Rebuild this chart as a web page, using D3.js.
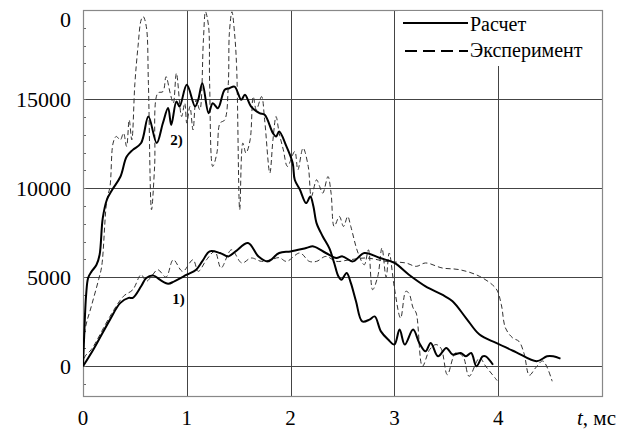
<!DOCTYPE html>
<html>
<head>
<meta charset="utf-8">
<script src="https://cdn.jsdelivr.net/npm/d3@7"></script>
<style>
  body { margin: 0; background: #fff; }
</style>
</head>
<body>
<div id="chart"></div>
<script>
// tick labels
const xTicks = [0, 1, 2, 3, 4];
const yTicks = [0, 5000, 10000, 15000];
const yTickLabels = ["0", "5000", "10000", "15000"];
const topLabel = "0"; // clipped "20000" label at the top

// 2) calculation
const calc2T = [0, 0.01, 0.03, 0.05, 0.08, 0.13, 0.16, 0.19, 0.23, 0.28, 0.36, 0.42, 0.48, 0.56, 0.63, 0.71, 0.77, 0.82, 0.85, 0.90, 0.93, 1.0, 1.08, 1.11, 1.15, 1.21, 1.25, 1.30, 1.365, 1.41, 1.46, 1.525, 1.56, 1.62, 1.70, 1.75, 1.83, 1.86, 1.89, 1.96, 2.02, 2.04, 2.09, 2.15, 2.19, 2.22, 2.25, 2.31, 2.375, 2.42, 2.46, 2.49, 2.54, 2.58, 2.63, 2.69, 2.76, 2.81, 2.87, 2.94, 3.0, 3.05, 3.10, 3.18, 3.24, 3.30, 3.35, 3.42, 3.50, 3.56, 3.64, 3.69, 3.74, 3.79, 3.85, 3.88, 3.95];
const calc2V = [0, 1500, 4000, 4970, 5300, 5700, 6260, 8300, 9350, 9900, 10640, 11760, 12150, 12530, 14020, 12530, 13660, 14500, 13550, 14860, 14580, 15800, 14580, 14960, 15890, 14210, 14770, 14490, 15520, 15610, 15700, 14960, 15240, 14580, 14210, 14120, 13090, 12900, 13180, 12340, 11410, 10470, 9910, 9160, 9530, 8970, 8040, 7290, 6600, 5800, 5050, 4860, 5240, 4680, 3650, 2520, 2620, 2800, 1960, 1500, 1220, 2060, 1220, 2060, 1310, 840, 1310, 560, 1030, 660, 750, 560, 750, 0, 560, 560, 90];

// 2) experiment
const exp2T = [0, 0.02, 0.08, 0.15, 0.18, 0.23, 0.26, 0.29, 0.32, 0.36, 0.39, 0.42, 0.445, 0.47, 0.50, 0.53, 0.56, 0.58, 0.61, 0.63, 0.66, 0.69, 0.72, 0.77, 0.80, 0.84, 0.87, 0.90, 0.95, 0.98, 1.0, 1.03, 1.06, 1.09, 1.125, 1.16, 1.18, 1.21, 1.22, 1.25, 1.29, 1.32, 1.365, 1.40, 1.41, 1.435, 1.46, 1.48, 1.51, 1.54, 1.57, 1.61, 1.64, 1.67, 1.72, 1.75, 1.80, 1.83, 1.86, 1.89, 1.93, 1.97, 2.04, 2.07, 2.12, 2.17, 2.20, 2.25, 2.28, 2.31, 2.36, 2.39, 2.42, 2.47, 2.51, 2.55, 2.58, 2.65, 2.71, 2.75, 2.79, 2.84, 2.88, 2.92, 2.95, 3.0, 3.06, 3.11, 3.14, 3.18, 3.21, 3.27, 3.34, 3.40, 3.45, 3.51, 3.59, 3.66, 3.72, 3.82, 3.88, 3.99];
const exp2V = [0, 2060, 3360, 4860, 5610, 9350, 10090, 12530, 12900, 12710, 13090, 12340, 13830, 12710, 15890, 17950, 19440, 19630, 19070, 15890, 8790, 11220, 15330, 15420, 16260, 15330, 14770, 16450, 14020, 14770, 13650, 14580, 13270, 14960, 14400, 18320, 19900, 19070, 15890, 11220, 11970, 13650, 13830, 15890, 18700, 19900, 18700, 16820, 8790, 12530, 11970, 12710, 15140, 14400, 15140, 13830, 10850, 12710, 14020, 13090, 12150, 11220, 12060, 11030, 12250, 11220, 9530, 10470, 10090, 9720, 10650, 9720, 7850, 8410, 7850, 8410, 7850, 6360, 5700, 6540, 4300, 5050, 6640, 5000, 6360, 4400, 2710, 4210, 4100, 3280, 2990, 0, 940, 1220, 1000, -470, 750, 560, -560, 470, 0, -800];

// 1) calculation
const calc1T = [0, 0.1, 0.26, 0.36, 0.44, 0.48, 0.56, 0.61, 0.68, 0.74, 0.82, 0.88, 1.0, 1.09, 1.15, 1.22, 1.32, 1.40, 1.47, 1.59, 1.69, 1.78, 1.89, 2.0, 2.15, 2.22, 2.34, 2.44, 2.50, 2.6, 2.71, 2.86, 3.0, 3.14, 3.30, 3.46, 3.56, 3.69, 3.82, 3.98, 4.17, 4.37, 4.47, 4.53, 4.6];
const calc1V = [0, 940, 2620, 3560, 3840, 3840, 4490, 4960, 5090, 4860, 4640, 4770, 5140, 5420, 5900, 6450, 6360, 6170, 6450, 6920, 6170, 5890, 6360, 6450, 6640, 6730, 6360, 6080, 6170, 5890, 6360, 6080, 5800, 5140, 4490, 4020, 3650, 2710, 1780, 1310, 800, 280, 560, 560, 430];

// 1) experiment
const exp1T = [0, 0.02, 0.08, 0.26, 0.39, 0.48, 0.56, 0.61, 0.66, 0.72, 0.80, 0.87, 0.96, 1.06, 1.11, 1.19, 1.27, 1.33, 1.43, 1.53, 1.62, 1.72, 1.81, 1.89, 1.96, 2.09, 2.18, 2.25, 2.34, 2.44, 2.57, 2.73, 2.92, 3.11, 3.21, 3.30, 3.46, 3.63, 3.82, 3.98, 4.03, 4.07, 4.14, 4.20, 4.25, 4.30, 4.36, 4.43, 4.52];
const exp1V = [0, 560, 940, 2800, 3930, 4300, 5140, 4770, 5050, 5420, 5010, 5980, 5330, 5980, 5330, 5980, 6450, 5520, 6540, 5800, 6080, 5890, 5980, 6100, 5890, 6360, 5890, 5890, 6170, 5890, 5980, 6080, 5890, 5800, 5610, 5800, 5520, 5420, 5050, 4350, 3460, 2150, 1590, 1400, 700, -500, -90, 300, -840];

const legendNames = ["Расчет", "Эксперимент"];

const width = 623,
  height = 431;
const plot = { left: 83, right: 602, top: 10, bottom: 396 };

// pick the first serif face that is really installed (width test against a fallback)
function pickFont(list) {
  const ctx = document.createElement("canvas").getContext("2d");
  const probe = "Эксперимент 15000 mmwwlli";
  const widthOf = (f) => {
    ctx.font = `40px ${f}`;
    return ctx.measureText(probe).width;
  };
  const mono = widthOf("monospace");
  for (const name of list) {
    if (widthOf(`"${name}", monospace`) !== mono) return `"${name}"`;
  }
  return "serif";
}
const serif = pickFont(["Liberation Serif", "Times New Roman", "Tinos", "DejaVu Serif", "Noto Serif", "FreeSerif"]);

const svg = d3
  .select("#chart")
  .append("svg")
  .attr("width", width)
  .attr("height", height)
  .style("font-family", serif);

const x = d3.scaleLinear().domain([0, 5]).range([plot.left, plot.right]);
const y = d3.scaleLinear().domain([-1667, 20000]).range([plot.bottom, plot.top]);

// grid
svg
  .append("g")
  .selectAll("line")
  .data(yTicks)
  .join("line")
  .attr("x1", plot.left)
  .attr("x2", plot.right)
  .attr("y1", (d) => Math.round(y(d)) + 0.5)
  .attr("y2", (d) => Math.round(y(d)) + 0.5)
  .style("stroke", "#444")
  .style("stroke-width", 1);

svg
  .append("g")
  .selectAll("line")
  .data(xTicks.slice(1))
  .join("line")
  .attr("x1", (d) => Math.round(x(d)) + 0.5)
  .attr("x2", (d) => Math.round(x(d)) + 0.5)
  .attr("y1", plot.top)
  .attr("y2", plot.bottom)
  .style("stroke", "#444")
  .style("stroke-width", 1);

// minor ticks on the y axis, every 1000
svg
  .append("g")
  .selectAll("line")
  .data(d3.range(-1000, 20000, 1000))
  .join("line")
  .attr("x1", plot.left)
  .attr("x2", plot.left + 3)
  .attr("y1", (d) => Math.round(y(d)) + 0.5)
  .attr("y2", (d) => Math.round(y(d)) + 0.5)
  .style("stroke", "#666");

// frame
svg
  .append("rect")
  .attr("x", plot.left + 0.5)
  .attr("y", plot.top + 0.5)
  .attr("width", plot.right - plot.left)
  .attr("height", plot.bottom - plot.top)
  .style("fill", "none")
  .style("stroke", "#888")
  .style("stroke-width", 1.2);

// curves
svg
  .append("clipPath")
  .attr("id", "clip")
  .append("rect")
  .attr("x", plot.left)
  .attr("y", plot.top + 1)
  .attr("width", plot.right - plot.left)
  .attr("height", plot.bottom - plot.top - 1);

const line = d3
  .line()
  .x((d) => x(d[0]))
  .y((d) => y(d[1]))
  .curve(d3.curveCatmullRom.alpha(0.5));

const zip = (ts, vs) => ts.map((t, i) => [t, vs[i]]);

const curves = svg.append("g").attr("clip-path", "url(#clip)");

[
  { data: zip(exp2T, exp2V), dash: "5,3", w: 1, c: "#333" },
  { data: zip(exp1T, exp1V), dash: "5,3", w: 1, c: "#333" },
  { data: zip(calc2T, calc2V), dash: null, w: 2, c: "#000" },
  { data: zip(calc1T, calc1V), dash: null, w: 2, c: "#000" },
].forEach((s) => {
  curves
    .append("path")
    .datum(s.data)
    .attr("d", line)
    .style("fill", "none")
    .style("stroke", s.c)
    .style("stroke-width", s.w)
    .style("stroke-dasharray", s.dash);
});

// curve numbers
svg
  .append("text")
  .attr("x", x(0.9))
  .attr("y", y(12450))
  .attr("text-anchor", "middle")
  .style("font-size", "15px")
  .style("font-weight", "bold")
  .text("2)");

svg
  .append("text")
  .attr("x", x(0.92))
  .attr("y", y(3500))
  .attr("text-anchor", "middle")
  .style("font-size", "15px")
  .style("font-weight", "bold")
  .text("1)");

// axis labels
svg
  .append("g")
  .selectAll("text")
  .data(yTicks)
  .join("text")
  .attr("x", 71)
  .attr("y", (d) => y(d) + 7.5)
  .attr("text-anchor", "end")
  .style("font-size", "22px")
  .text((d, i) => yTickLabels[i]);

svg
  .append("text")
  .attr("x", 71)
  .attr("y", 27)
  .attr("text-anchor", "end")
  .style("font-size", "22px")
  .text(topLabel);

svg
  .append("g")
  .selectAll("text")
  .data(xTicks)
  .join("text")
  .attr("x", (d) => x(d))
  .attr("y", 425)
  .attr("text-anchor", "middle")
  .style("font-size", "21px")
  .text((d) => d);

const axisTitle = svg
  .append("text")
  .attr("x", 577)
  .attr("y", 425)
  .style("font-size", "21px");
axisTitle.append("tspan").style("font-style", "italic").text("t");
axisTitle.append("tspan").text(", мс");

// legend
const legend = svg.append("g");
legend
  .append("rect")
  .attr("x", 398)
  .attr("y", 11)
  .attr("width", 202)
  .attr("height", 55)
  .style("fill", "#fff");

legend
  .selectAll("line")
  .data(legendNames)
  .join("line")
  .attr("x1", (d, i) => (i ? 405 : 403))
  .attr("x2", 468)
  .attr("y1", (d, i) => 23 + i * 28)
  .attr("y2", (d, i) => 23 + i * 28)
  .style("stroke", "#000")
  .style("stroke-width", 2)
  .style("stroke-dasharray", (d, i) => (i ? "12,6" : null));

legend
  .selectAll("text")
  .data(legendNames)
  .join("text")
  .attr("x", 470)
  .attr("y", (d, i) => 31 + i * 26)
  .style("font-size", "20px")
  .text((d) => d);
</script>
</body>
</html>
